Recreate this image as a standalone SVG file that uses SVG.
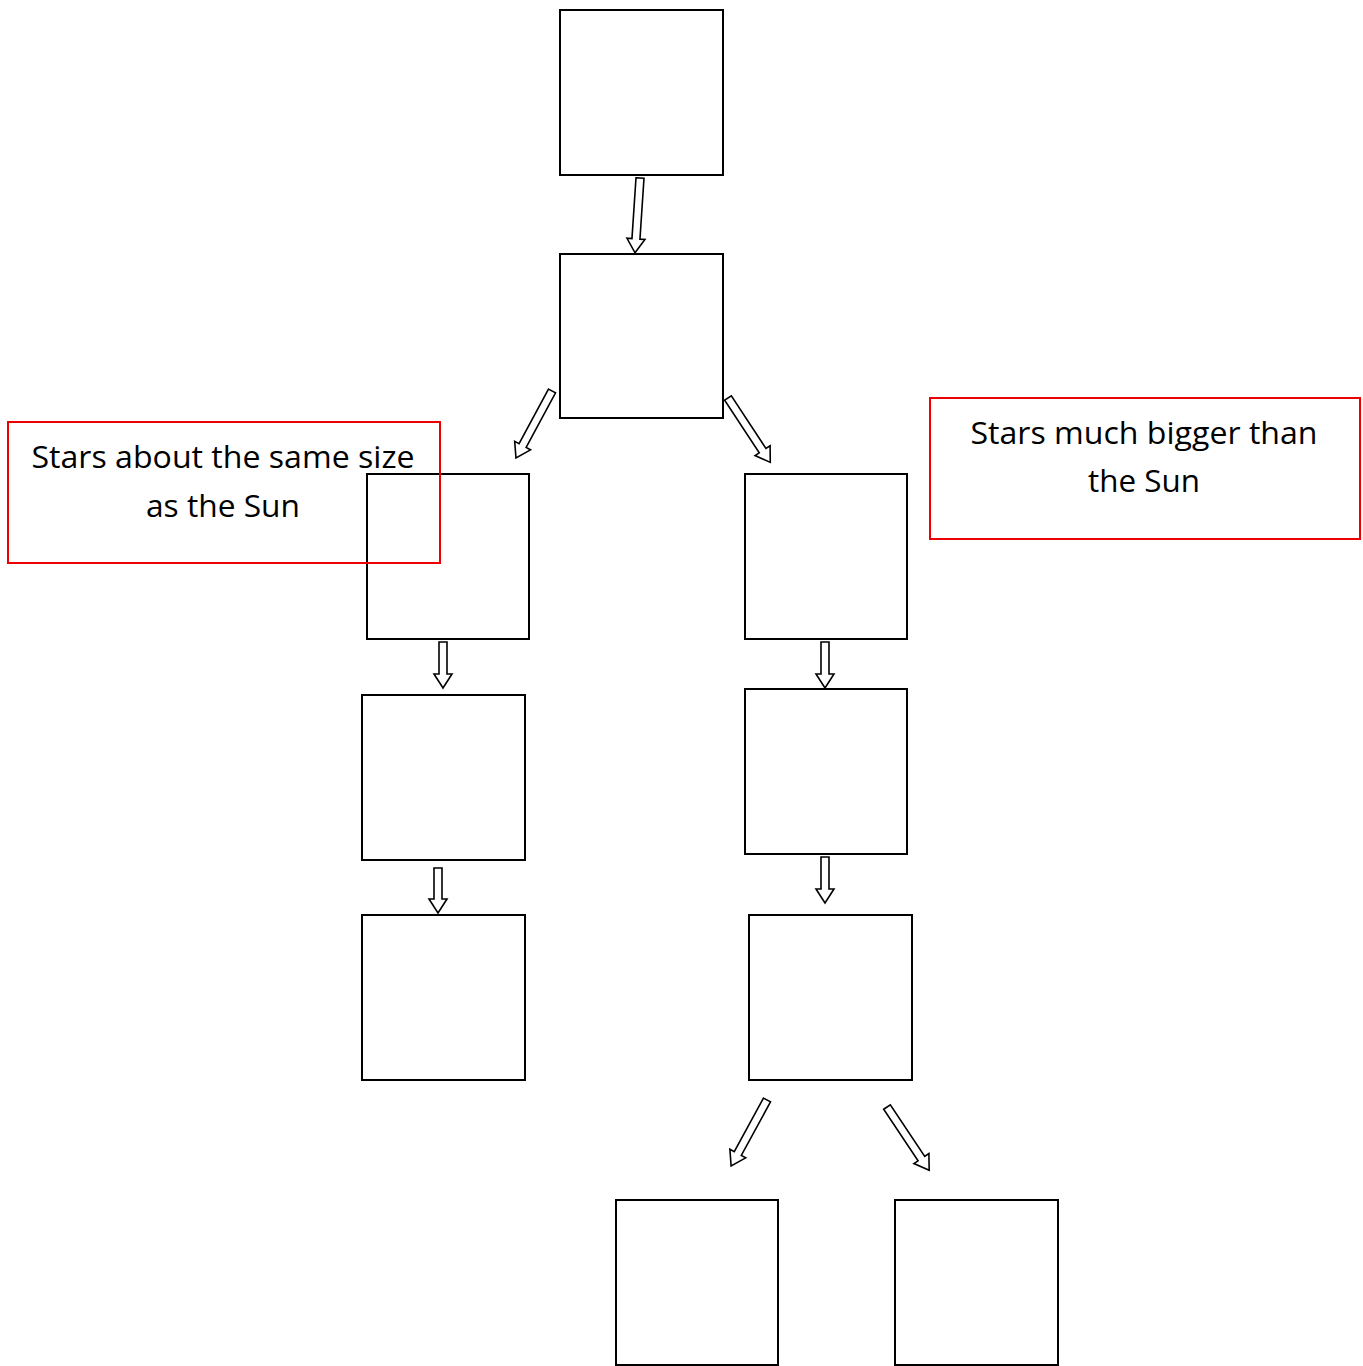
<svg xmlns="http://www.w3.org/2000/svg" width="1363" height="1366" viewBox="0 0 1363 1366">
<style>
.box{fill:#fff;stroke:#000;stroke-width:2}
.note{fill:none;stroke:#e00;stroke-width:2}
.arr{fill:#fff;stroke:#000;stroke-width:1.6;stroke-linejoin:miter}
.t{font-family:"Open Sans","Noto Sans",sans-serif;font-size:31px;fill:#000;text-anchor:middle}
</style>
<rect width="1363" height="1366" fill="#fff"/>
<g id="n1"><rect class="box" x="560" y="10" width="163" height="165"/></g>
<g id="n2"><rect class="box" x="560" y="254" width="163" height="164"/></g>
<g id="n3"><rect class="box" x="367" y="474" width="162" height="165"/></g>
<g id="n4"><rect class="box" x="745" y="474" width="162" height="165"/></g>
<g id="n5"><rect class="box" x="362" y="695" width="163" height="165"/></g>
<g id="n6"><rect class="box" x="745" y="689" width="162" height="165"/></g>
<g id="n7"><rect class="box" x="362" y="915" width="163" height="165"/></g>
<g id="n8"><rect class="box" x="749" y="915" width="163" height="165"/></g>
<g id="n9"><rect class="box" x="616" y="1200" width="162" height="165"/></g>
<g id="n10"><rect class="box" x="895" y="1200" width="163" height="165"/></g>
<g id="note-left">
<rect class="note" x="8" y="422" width="432" height="141"/>
<text class="t" x="223" y="468" textLength="383" lengthAdjust="spacingAndGlyphs">Stars about the same size</text>
<text class="t" x="223" y="517" textLength="154" lengthAdjust="spacingAndGlyphs">as the Sun</text>
</g>
<g id="note-right">
<rect class="note" x="930" y="398" width="430" height="141"/>
<text class="t" x="1144" y="444" textLength="347" lengthAdjust="spacingAndGlyphs">Stars much bigger than</text>
<text class="t" x="1144" y="492" textLength="112" lengthAdjust="spacingAndGlyphs">the Sun</text>
</g>
<g id="connectors">
<path class="arr" transform="translate(640,178) rotate(3.8)" d="M-4,0 L4,0 L4,61 L9,61 L0,75 L-9,61 L-4,61 Z"/>
<path class="arr" transform="translate(552,391) rotate(28.3)" d="M-4,0 L4,0 L4,62 L9,62 L0,76 L-9,62 L-4,62 Z"/>
<path class="arr" transform="translate(728,398) rotate(-33.3)" d="M-4,0 L4,0 L4,63 L9,63 L0,77 L-9,63 L-4,63 Z"/>
<path class="arr" transform="translate(443,642)" d="M-4,0 L4,0 L4,32 L9,32 L0,46 L-9,32 L-4,32 Z"/>
<path class="arr" transform="translate(438,868)" d="M-4,0 L4,0 L4,31 L9,31 L0,45 L-9,31 L-4,31 Z"/>
<path class="arr" transform="translate(825,642)" d="M-4,0 L4,0 L4,32 L9,32 L0,46 L-9,32 L-4,32 Z"/>
<path class="arr" transform="translate(825,857)" d="M-4,0 L4,0 L4,32 L9,32 L0,46 L-9,32 L-4,32 Z"/>
<path class="arr" transform="translate(767,1100) rotate(28.6)" d="M-4,0 L4,0 L4,61 L9,61 L0,75 L-9,61 L-4,61 Z"/>
<path class="arr" transform="translate(887,1107) rotate(-33.7)" d="M-4,0 L4,0 L4,62 L9,62 L0,76 L-9,62 L-4,62 Z"/>
</g>
</svg>
